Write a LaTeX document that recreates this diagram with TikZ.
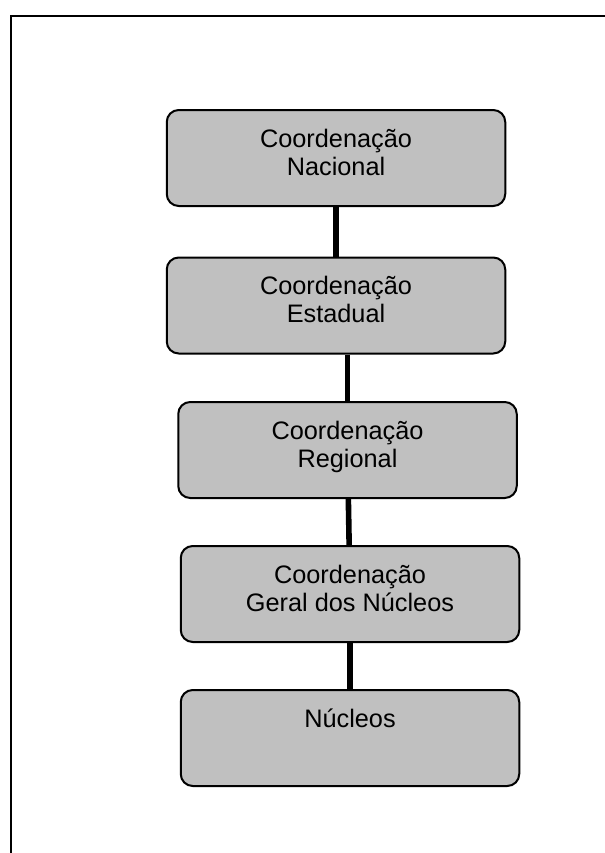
\documentclass[tikz,border=0pt]{standalone}
\usepackage{fontspec}
\setmainfont{Liberation Sans}
\definecolor{boxgray}{HTML}{C0C0C0}
\tikzset{
  box/.style={draw=black, line width=1pt, fill=boxgray, rounded corners=6pt,
    minimum width=169.25pt, minimum height=48pt, inner sep=0pt},
  boxtext/.style={align=center, anchor=base, inner sep=0pt,
    font=\fontsize{12.65}{14.15}\selectfont},
  link/.style={line width=2.8pt}
}
\begin{document}
\begin{tikzpicture}[x=0.5pt, y=-0.5pt]
            \useasboundingbox (0,0) rectangle (605,853);
            \draw[line width=1pt] (605,16) -- (11,16) -- (11,853);
            \node[box] (nac) at (336,158) {};
            \node[box] (est) at (336,305.5) {};
            \node[box] (reg) at (347.5,450) {};
            \node[box] (ger) at (350,594) {};
            \node[box] (nuc) at (350,738) {};
            \node[boxtext] (nac-t) at ([yshift=-33.15pt]nac.north) {Coordenação\\Nacional};
            \node[boxtext] (est-t) at ([yshift=-33.15pt]est.north) {Coordenação\\Estadual};
            \node[boxtext] (reg-t) at ([yshift=-33.15pt]reg.north) {Coordenação\\Regional};
            \node[boxtext] (ger-t) at ([yshift=-33.15pt]ger.north) {Coordenação\\Geral dos Núcleos};
            \node[boxtext] (nuc-t) at ([yshift=-19pt]nuc.north) {Núcleos};
            \draw[link] (nac) -- (est);
            \draw[link] (est.south -| reg.north) -- (reg.north);
            \draw[link] (reg) -- (ger);
            \draw[link] (ger) -- (nuc);
        \end{tikzpicture}
\end{document}
